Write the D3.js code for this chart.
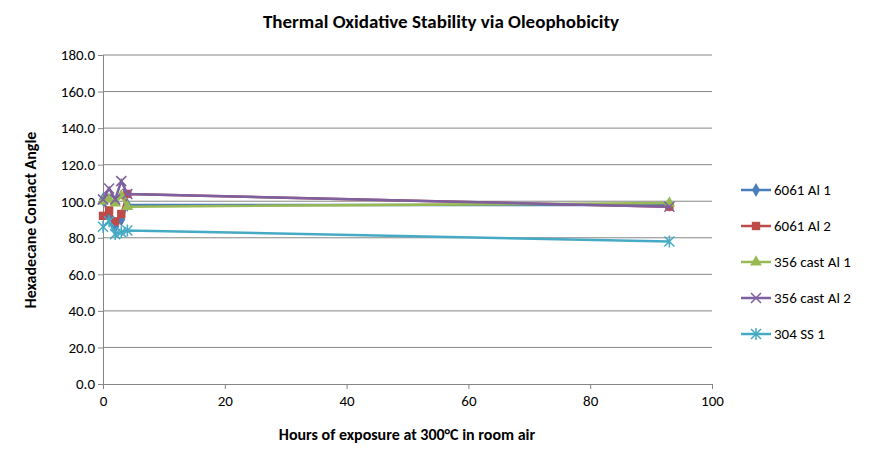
<!DOCTYPE html><html><head><script src="https://cdn.jsdelivr.net/npm/d3@7"></script>
<style>body{margin:0;background:#fff}text{font-family:Calibri,Carlito,"Liberation Sans",Arial,sans-serif}</style></head><body>
<svg id="c" width="882" height="463"></svg>
<script>
const hours=[0,1,2,3,4,93];
const seriesNames=["6061 Al 1","6061 Al 2","356 cast Al 1","356 cast Al 2","304 SS 1"];
const al1=[101,92,86,90,98,98];
const al2=[92,95,89,93,104,97];
const cast1=[100,101,99,103,97,99];
const cast2=[101,107,101,111,104,97];
const ss1=[86,89,82,83,84,78];
const colors=["#4a7ebb","#be4b48","#98b954","#7d60a0","#46aac5"];
const symbols=["diamond","square","triangle","x","star"];
const yTicks=d3.range(0,181,20);
const xTicks=d3.range(0,101,20);
const data=[al1,al2,cast1,cast2,ss1];
const svg=d3.select("#c");
const x=d3.scaleLinear().domain([0,100]).range([103,712]);
const y=d3.scaleLinear().domain([0,180]).range([384,55]);
svg.append("g").selectAll("line").data(yTicks.slice(1)).join("line").attr("x1",103).attr("x2",712).attr("y1",d=>y(d)).attr("y2",d=>y(d)).attr("stroke","#868686").attr("stroke-width",1);
const gx=svg.append("g").attr("transform","translate(0,384)").call(d3.axisBottom(x).tickValues(xTicks).tickSize(5).tickFormat(d3.format("d")));
const gy=svg.append("g").attr("transform","translate(103,0)").call(d3.axisLeft(y).tickValues(yTicks).tickSize(5).tickFormat(d3.format(".1f")));
[gx,gy].forEach(g=>{g.select(".domain").attr("stroke","#868686");g.selectAll(".tick line").attr("stroke","#868686");g.selectAll("text").attr("font-size",15).attr("fill","#000");});
gx.selectAll("text").attr("dy","0.9em");
const line=d3.line().x((d,i)=>x(hours[i])).y(d=>y(d));
const sym=t=>{
  if(t==="diamond")return d3.symbol(d3.symbolDiamond,55)();
  if(t==="square")return d3.symbol(d3.symbolSquare,70)();
  if(t==="triangle")return d3.symbol(d3.symbolTriangle,60)();
  if(t==="x")return "M-5,-5L5,5M-5,5L5,-5";
  return "M-5,-5L5,5M-5,5L5,-5M0,-6L0,6";
};
data.forEach((s,k)=>{
  svg.append("path").attr("d",line(s)).attr("fill","none").attr("stroke",colors[k]).attr("stroke-width",2.5);
  svg.append("g").selectAll("path").data(s).join("path").attr("transform",(d,i)=>`translate(${x(hours[i])},${y(d)})`).attr("d",sym(symbols[k])).attr("fill",colors[k]).attr("stroke",colors[k]).attr("stroke-width",symbols[k]==="x"||symbols[k]==="star"?1.5:0);
});
const lg=svg.append("g");
seriesNames.forEach((n,k)=>{
  const yy=190+k*36;
  lg.append("line").attr("x1",741).attr("x2",771).attr("y1",yy).attr("y2",yy).attr("stroke",colors[k]).attr("stroke-width",2.5);
  lg.append("path").attr("transform",`translate(756,${yy})`).attr("d",sym(symbols[k])).attr("fill",colors[k]).attr("stroke",colors[k]).attr("stroke-width",symbols[k]==="x"||symbols[k]==="star"?1.5:0);
  lg.append("text").attr("x",774).attr("y",yy+5).attr("font-size",15).text(n);
});
svg.append("text").attr("x",441).attr("y",28).attr("text-anchor","middle").attr("font-size",19).attr("font-weight","bold").text("Thermal Oxidative Stability via Oleophobicity");
svg.append("text").attr("x",407).attr("y",440).attr("text-anchor","middle").attr("font-size",16).attr("font-weight","bold").text("Hours of exposure at 300°C in room air");
svg.append("text").attr("transform","translate(36,220) rotate(-90)").attr("text-anchor","middle").attr("font-size",16).attr("font-weight","bold").text("Hexadecane Contact Angle");
</script></body></html>
